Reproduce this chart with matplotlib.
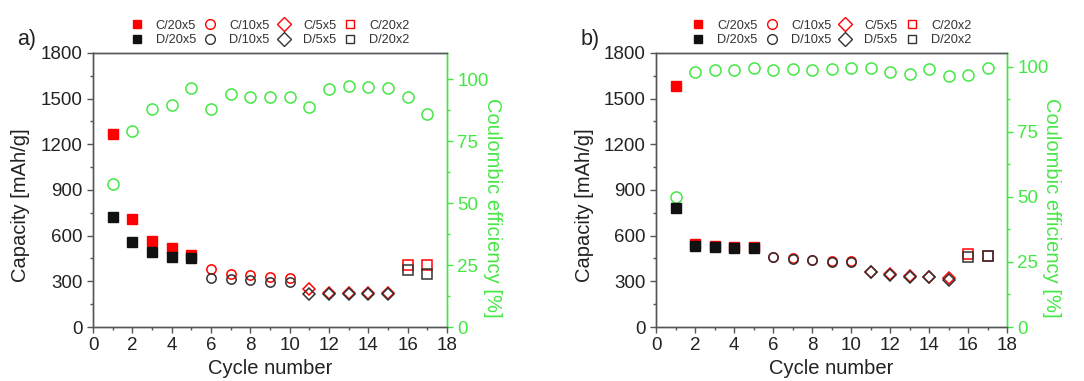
import matplotlib
matplotlib.use("Agg")
import matplotlib.pyplot as plt
from matplotlib.ticker import MultipleLocator
from matplotlib.lines import Line2D

plt.rcParams['font.family'] = ['Liberation Sans', 'DejaVu Sans']

cycles = list(range(1, 18))

# Panel a
charge_a = [1270, 707, 565, 521, 473, 379, 346, 342, 331, 324, 247, 221, 221, 221, 221, 407, 407]
discharge_a = [725, 558, 493, 462, 451, 324, 315, 309, 298, 293, 217, 217, 217, 217, 217, 374, 346]
ce_a = [57.5, 79.2, 87.8, 89.5, 96.5, 87.8, 93.8, 92.6, 92.6, 92.6, 88.6, 95.8, 97.2, 96.6, 96.2, 92.6, 85.8]

# Panel b
charge_b = [1580, 545, 534, 528, 523, 462, 453, 442, 434, 431, 359, 346, 335, 331, 320, 480, 466]
discharge_b = [784, 532, 528, 521, 521, 458, 449, 440, 429, 429, 359, 342, 331, 331, 311, 458, 466]
ce_b = [50.1, 97.8, 98.7, 98.8, 99.6, 98.8, 99.1, 98.8, 99.0, 99.4, 99.4, 98.1, 97.4, 99.1, 96.5, 96.8, 99.5]

groups = [("20x5", 0, 5, 's', True), ("10x5", 5, 10, 'o', False),
          ("5x5", 10, 15, 'D', False), ("20x2", 15, 17, 's', False)]

RED = '#ff0000'
BLK = '#111111'
GREEN = '#44e844'
GRAY = '#333333'

fig = plt.figure(figsize=(10.84, 3.81), dpi=100)
fig.patch.set_facecolor('white')

positions = [[0.0858, 0.1417, 0.3266, 0.7193], [0.6052, 0.1417, 0.3238, 0.7193]]
datasets = [(charge_a, discharge_a, ce_a, 110.5, 'a)'), (charge_b, discharge_b, ce_b, 105.3, 'b)')]

FS = 14.5
TFS = 13.5
for pos, (ch, dis, ce, ce_top, lab) in zip(positions, datasets):
    ax = fig.add_axes(pos)
    ax2 = ax.twinx()
    ax.set_zorder(ax2.get_zorder() + 1)
    ax.patch.set_visible(False)

    sizes = {'s': 6.5, 'o': 6.7, 'D': 6.5}
    for name, i0, i1, mk, filled in groups:
        ms = sizes[mk]
        x = cycles[i0:i1]
        if filled:
            ax.plot(x, ch[i0:i1], linestyle='none', marker=mk, ms=ms, mfc=RED, mec=RED, zorder=3)
            ax.plot(x, dis[i0:i1], linestyle='none', marker=mk, ms=ms, mfc=BLK, mec=BLK, zorder=4)
        else:
            ax.plot(x, ch[i0:i1], linestyle='none', marker=mk, ms=ms, mfc='none', mec=RED, mew=1.1, zorder=3)
            ax.plot(x, dis[i0:i1], linestyle='none', marker=mk, ms=ms, mfc='none', mec=GRAY, mew=1.1, zorder=4)

    ax2.plot(cycles, ce, linestyle='none', marker='o', ms=8, mfc='none', mec=GREEN, mew=1.1)

    ax.set_xlim(0, 18)
    ax.set_ylim(0, 1800)
    ax2.set_ylim(0, ce_top)
    ax.xaxis.set_major_locator(MultipleLocator(2))
    ax.xaxis.set_minor_locator(MultipleLocator(1))
    ax.yaxis.set_major_locator(MultipleLocator(300))
    ax.yaxis.set_minor_locator(MultipleLocator(150))
    ax2.yaxis.set_major_locator(MultipleLocator(25))
    ax2.yaxis.set_minor_locator(MultipleLocator(12.5))

    for a in (ax, ax2):
        for s in a.spines.values():
            s.set_color('#555555')
            s.set_linewidth(1.0)
        a.spines['right'].set_color(GREEN)
    ax.tick_params(axis='both', which='major', direction='out', length=4, width=1,
                   colors='#555555', labelcolor='#222222', labelsize=TFS, top=False, right=False)
    ax.tick_params(axis='both', which='minor', direction='out', length=2, width=1,
                   colors='#555555', top=False, right=False)
    ax2.tick_params(axis='y', which='major', direction='out', length=4, width=1,
                    colors=GREEN, labelcolor=GREEN, labelsize=TFS)
    ax2.tick_params(axis='y', which='minor', direction='out', length=2, width=1, colors=GREEN)

    ax.set_xlabel('Cycle number', fontsize=FS, color='#222222', labelpad=3)
    ax.set_ylabel('Capacity [mAh/g]', fontsize=FS, color='#222222', ha='center', va='center')
    ax.yaxis.set_label_coords(-0.204, 0.445)
    ax2.set_ylabel('Coulombic efficiency [%]', fontsize=FS, color=GREEN, rotation=270,
                   ha='center', va='center')
    ax2.yaxis.set_label_coords(1.128, 0.436)

    ax.text(-0.215, 1.01, lab, transform=ax.transAxes, fontsize=15.5, color='#222222',
            ha='left', va='bottom')

    handles = []
    labels = []
    for name, i0, i1, mk, filled in groups:
        ms = {'s': 6, 'o': 7, 'D': 7}[mk]
        if filled:
            handles.append(Line2D([], [], linestyle='none', marker=mk, ms=ms, mfc=RED, mec=RED))
            handles.append(Line2D([], [], linestyle='none', marker=mk, ms=ms, mfc=BLK, mec=BLK))
        else:
            handles.append(Line2D([], [], linestyle='none', marker=mk, ms=ms, mfc='none', mec=RED, mew=1))
            handles.append(Line2D([], [], linestyle='none', marker=mk, ms=ms, mfc='none', mec=GRAY, mew=1))
        labels.append('C/' + name)
        labels.append('D/' + name)
    ax.legend(handles, labels, ncol=4, loc='lower center', bbox_to_anchor=(0.5, 1.015),
              frameon=False, fontsize=9.2, handlelength=1.0, handletextpad=1.0,
              columnspacing=0.6, labelspacing=0.2, borderpad=0.1, borderaxespad=0.1,
              labelcolor='#333333')

fig.savefig('out.png', dpi=100, facecolor='white')
